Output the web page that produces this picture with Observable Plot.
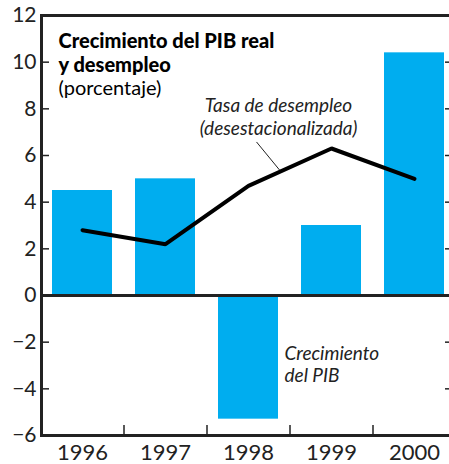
<!DOCTYPE html>
<html>
<head>
<meta charset="utf-8">
<script src="https://cdn.jsdelivr.net/npm/d3@7"></script>
<script src="https://cdn.jsdelivr.net/npm/@observablehq/plot@0.6"></script>
<style>
  html, body { margin: 0; padding: 0; background: white; }
  #chart svg { display: block; }
</style>
</head>
<body>
<div id="chart"></div>
<script>
const years = ["1996", "1997", "1998", "1999", "2000"];
const gdpGrowth = [4.5, 5.0, -5.3, 3.0, 10.4];
const unemployment = [2.8, 2.2, 4.7, 6.3, 5.0];
const yTicks = [-6, -4, -2, 0, 2, 4, 6, 8, 10, 12];
const titleText = "Crecimiento del PIB real\ny desempleo";
const subtitleText = "(porcentaje)";
const lineLabel = "Tasa de desempleo\n(desestacionalizada)";
const barLabel = "Crecimiento\ndel PIB";

const data = years.map((year, i) => ({year, gdp: gdpGrowth[i], unemp: unemployment[i]}));
const ink = "#222";
const font = "Lato, 'Liberation Sans', sans-serif";

const chart = Plot.plot({
  width: 449,
  height: 464,
  marginLeft: 41,
  marginRight: -7,
  marginTop: 15,
  marginBottom: 29,
  style: {fontFamily: font, background: "white", color: ink, overflow: "visible"},
  x: {domain: years, paddingInner: 0.277, paddingOuter: 0.1385, axis: null, label: null},
  y: {domain: [-6, 12], axis: null, label: null},
  marks: [
    Plot.barY(data, {x: "year", y: "gdp", fill: "#00adef"}),
    Plot.ruleY([0], {stroke: ink, strokeWidth: 3}),
    Plot.line(data, {x: "year", y: "unemp", stroke: "black", strokeWidth: 4, strokeLinejoin: "miter"}),
    Plot.frame({stroke: ink, strokeWidth: 3}),
    Plot.axisY(yTicks, {anchor: "left", label: null, tickSize: -8, tickPadding: 13, fontSize: 21, strokeWidth: 1.5}),
    Plot.axisY(yTicks, {anchor: "right", label: null, tickSize: -12, tickFormat: () => "", strokeWidth: 1.5}),
    Plot.axisX({label: null, tickSize: 0, tickPadding: 9, fontSize: 22}),
    Plot.ruleX(years.slice(0, 4), {x: d => d, y1: -6, y2: -5.57, dx: 41.5, stroke: ink, strokeWidth: 1.5}),
    Plot.text([titleText], {frameAnchor: "top-left", dx: 17, dy: 15, text: d => d, fontSize: 20, fontWeight: 900, lineHeight: 1.2, textAnchor: "start", lineAnchor: "top", fill: "black"}),
    Plot.text([subtitleText], {frameAnchor: "top-left", dx: 17, dy: 65, text: d => d, fontSize: 20, textAnchor: "start", lineAnchor: "top", fill: "black"}),
    Plot.text([lineLabel], {x: () => "1998", y: () => 8.55, dx: 30, text: d => d, fontSize: 19, fontStyle: "italic", lineHeight: 1.2, textAnchor: "middle", lineAnchor: "top", fill: ink}),
    Plot.link([0], {
      x1: () => "1998", x2: () => "1998", y1: () => 6.58, y2: () => 5.38,
      stroke: ink, strokeWidth: 1,
      render(index, scales, values, dimensions, context, next) {
        const v = {...values, x1: Array.from(values.x1, x => x + 8), x2: Array.from(values.x2, x => x + 31)};
        return next(index, scales, v, dimensions, context);
      }
    }),
    Plot.text([barLabel], {x: () => "1998", y: () => -2.05, dx: 36, text: d => d, fontSize: 19, fontStyle: "italic", lineHeight: 1.2, textAnchor: "start", lineAnchor: "top", fill: ink})
  ]
});
document.getElementById("chart").append(chart);
</script>
</body>
</html>
